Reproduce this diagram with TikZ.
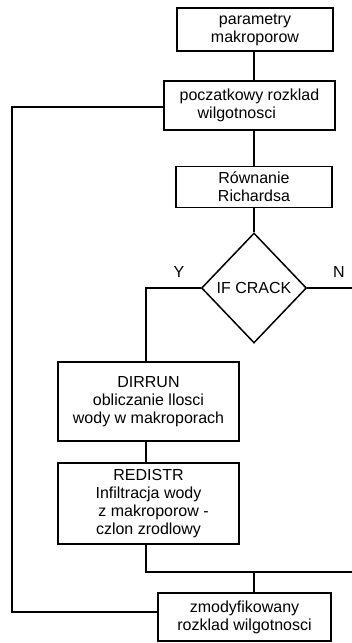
\documentclass[tikz,border=0pt]{standalone}
\usepackage{fontspec}
\setmainfont{Liberation Sans}
\usetikzlibrary{shapes.geometric}
\begin{document}
\begin{tikzpicture}[x=1pt,y=-1pt,
  line width=1.5pt,
  box/.style={draw, rectangle, inner sep=0pt, align=center,
    font=\fontsize{16}{18}\selectfont},
  dec/.style={draw, diamond, inner sep=0pt, minimum width=105pt, minimum height=110pt,
    aspect=0.955, font=\fontsize{16}{18}\selectfont},
  lbl/.style={font=\fontsize{16}{18}\selectfont}]
\useasboundingbox (0,0) rectangle (352,643);
\node[box, minimum width=156pt, minimum height=43pt] (b1) at (255,29.5) {parametry\\makroporow};
\node[box, minimum width=171pt, minimum height=49pt, align=left] (b2) at (249.5,105.5) {poczatkowy rozklad\\\hspace*{18pt}wilgotnosci};
\node[box, minimum width=156pt, minimum height=41pt] (b3) at (254,187) {Równanie\\Richardsa};
\node[dec] (dia) at (254,288) {IF CRACK};
\node[box, minimum width=181pt, minimum height=79pt] (b4) at (148.5,401.5) {DIRRUN\\obliczanie llosci\\wody w makroporach};
\node[box, minimum width=181pt, minimum height=81pt] (b5) at (148.5,503.5) {REDISTR\\Infiltracja wody\\\hspace*{10pt}z makroporow -\\czlon zrodlowy};
\node[box, minimum width=173pt, minimum height=48pt] (b6) at (244.5,617) {zmodyfikowany\\rozklad wilgotnosci};
\node[lbl] (ly) at (179,272) {Y};
\node[lbl] (ln) at (339,272) {N};
\coordinate (L1) at (12,107);
\coordinate (L2) at (12,612);
\coordinate (ycol) at (146,288);
\coordinate (nend) at (352,288);
\coordinate (jn) at (146,572);
\coordinate (jend) at (352,572);
\coordinate (jm) at (254,572);
\draw (b1.south -| dia) -- (b2.north -| dia);
\draw (b2.south -| dia) -- (b3.north -| dia);
\draw (b3.south -| dia) -- (dia.north);
\draw (b2.west |- L1) -- (L1) -- (L2) -- (b6.west |- L2);
\draw (dia.west) -- (ycol) -- (b4.north -| ycol);
\draw (dia.east) -- (nend);
\draw (b4.south -| ycol) -- (b5.north -| ycol);
\draw (b5.south -| ycol) -- (jn) -- (jend);
\draw (jm) -- (b6.north -| jm);
\end{tikzpicture}
\end{document}
